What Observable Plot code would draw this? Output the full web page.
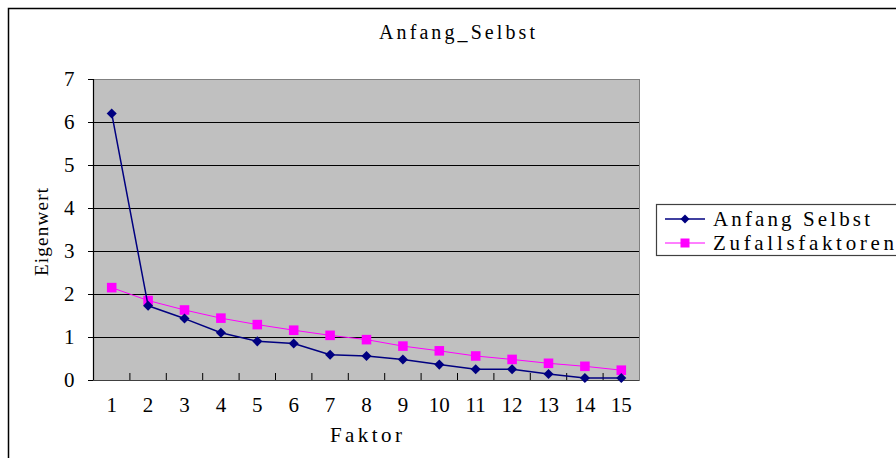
<!DOCTYPE html>
<html>
<head>
<meta charset="utf-8">
<script src="https://cdn.jsdelivr.net/npm/d3@7"></script>
<script src="https://cdn.jsdelivr.net/npm/@observablehq/plot@0.6"></script>
<style>
  html, body { margin: 0; padding: 0; background: white; }
</style>
</head>
<body>
<div id="chart"></div>
<script>
const title = "Anfang_Selbst";
const xLabel = "Faktor";
const yLabel = "Eigenwert";
const seriesNames = ["Anfang Selbst", "Zufallsfaktoren"];
const factors = [1, 2, 3, 4, 5, 6, 7, 8, 9, 10, 11, 12, 13, 14, 15];
const anfang = [6.21, 1.74, 1.44, 1.11, 0.91, 0.86, 0.60, 0.57, 0.49, 0.37, 0.26, 0.26, 0.15, 0.06, 0.06];
const zufall = [2.16, 1.86, 1.64, 1.45, 1.30, 1.17, 1.05, 0.95, 0.80, 0.69, 0.57, 0.49, 0.40, 0.33, 0.24];
const yTicks = [0, 1, 2, 3, 4, 5, 6, 7];
const gridValues = [1, 2, 3, 4, 5, 6];
const categoryBoundaries = [1.5, 2.5, 3.5, 4.5, 5.5, 6.5, 7.5, 8.5, 9.5, 10.5, 11.5, 12.5, 13.5, 14.5];

const colors = ["#000080", "#ff00ff"];

const dataA = factors.map((f, i) => ({factor: f, value: anfang[i]}));
const dataZ = factors.map((f, i) => ({factor: f, value: zufall[i]}));

const diamond = {
  draw(context, size) {
    const s = Math.sqrt(size) / 1.3;
    context.moveTo(0, -s);
    context.lineTo(s, 0);
    context.lineTo(0, s);
    context.lineTo(-s, 0);
    context.closePath();
  }
};

const font = "'Liberation Serif', 'DejaVu Serif', serif";

const svg = Plot.plot({
  width: 896,
  height: 458,
  marginLeft: 93,
  marginRight: 257,
  marginTop: 79,
  marginBottom: 78,
  style: {fontFamily: font, fontSize: "21px", background: "white", color: "black", overflow: "visible"},
  x: {domain: [0.5, 15.5], label: null},
  y: {domain: [0, 7], label: null},
  marks: [
    Plot.frame({fill: "#c0c0c0", stroke: "#808080"}),
    Plot.gridY(gridValues, {stroke: "black", strokeOpacity: 1, strokeWidth: 1}),
    Plot.ruleY([0], {stroke: "#404040", strokeWidth: 1.2}),
    Plot.ruleX([0.5], {stroke: "black", strokeWidth: 1.2}),
    Plot.tickX(categoryBoundaries, {x: d => d, insetTop: 294, stroke: "black"}),
    Plot.axisX(factors, {tickSize: 0, tickPadding: 17, label: null, fontSize: 21}),
    Plot.axisY(yTicks, {tickSize: 5, tickPadding: 14, label: null, fontSize: 21}),
    Plot.line(dataZ, {x: "factor", y: "value", stroke: colors[1], strokeWidth: 1}),
    Plot.dot(dataZ, {x: "factor", y: "value", symbol: "square", r: 5.4, fill: colors[1], stroke: "none"}),
    Plot.line(dataA, {x: "factor", y: "value", stroke: colors[0], strokeWidth: 1.5}),
    Plot.dot(dataA, {x: "factor", y: "value", symbol: diamond, r: 3.7, fill: colors[0], stroke: "none"})
  ]
});

const s = d3.select(svg);
// outer chart border
s.insert("path", ":first-child")
  .attr("d", "M8.5,460 L8.5,8.5 L900,8.5")
  .attr("fill", "none").attr("stroke", "black").attr("stroke-width", 1.5);

s.append("text").attr("x", 457).attr("y", 32).attr("text-anchor", "middle")
  .attr("dominant-baseline", "central").attr("font-size", 20)
  .attr("textLength", 156).attr("lengthAdjust", "spacing").text(title);

s.append("text").attr("x", 366).attr("y", 435).attr("text-anchor", "middle")
  .attr("dominant-baseline", "central").attr("font-size", 21)
  .attr("textLength", 72).attr("lengthAdjust", "spacing").text(xLabel);

s.append("text").attr("transform", "translate(41,232) rotate(-90)").attr("text-anchor", "middle")
  .attr("dominant-baseline", "central").attr("font-size", 19)
  .attr("textLength", 88).attr("lengthAdjust", "spacing").text(yLabel);

// legend
const lg = s.append("g");
lg.append("rect").attr("x", 656.5).attr("y", 204.5).attr("width", 260).attr("height", 51)
  .attr("fill", "white").attr("stroke", "#404040").attr("stroke-width", 1.2);
const rows = [219, 243];
const legendLengths = [157, 181];
seriesNames.forEach((name, i) => {
  const y = rows[i];
  lg.append("line").attr("x1", 665).attr("x2", 705).attr("y1", y).attr("y2", y)
    .attr("stroke", colors[i]).attr("stroke-width", i === 0 ? 1.5 : 1);
  if (i === 0) {
    lg.append("path").attr("d", `M685,${y - 4.5} L689.5,${y} L685,${y + 4.5} L680.5,${y} Z`).attr("fill", colors[0]);
  } else {
    lg.append("rect").attr("x", 680.5).attr("y", y - 4.5).attr("width", 9).attr("height", 9).attr("fill", colors[1]);
  }
  lg.append("text").attr("x", 713).attr("y", y).attr("text-anchor", "start").attr("dominant-baseline", "central")
    .attr("font-size", 21).attr("textLength", legendLengths[i]).attr("lengthAdjust", "spacing").text(name);
});

document.getElementById("chart").appendChild(svg);
</script>
</body>
</html>
